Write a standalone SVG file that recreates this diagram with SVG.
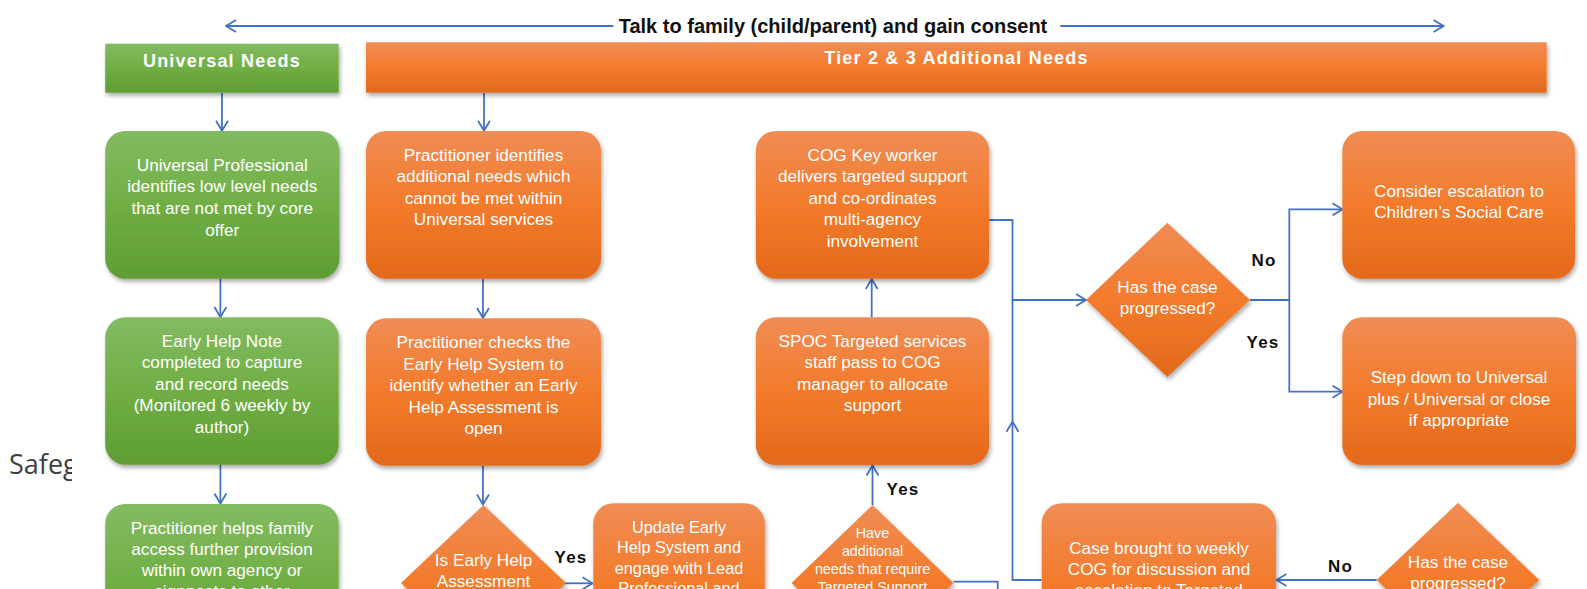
<svg xmlns="http://www.w3.org/2000/svg" width="1587" height="589" viewBox="0 0 1587 589">
<style>
.t{font-family:"Liberation Sans",Arial,sans-serif;font-size:17.2px;fill:#fff;text-anchor:middle}
.ts{font-size:16.3px}
.tx{font-size:14.3px}
.hd{font-family:"Liberation Sans",Arial,sans-serif;font-size:18px;font-weight:bold;fill:#fff;text-anchor:middle;letter-spacing:1.2px}
.lb{font-family:"Liberation Sans",Arial,sans-serif;font-size:17px;font-weight:bold;fill:#111;text-anchor:middle;letter-spacing:1.2px}
.top{font-family:"Liberation Sans",Arial,sans-serif;font-size:20px;font-weight:bold;fill:#111;text-anchor:middle}
.c{fill:none;stroke:#4472c4;stroke-width:1.8}
.a{marker-end:url(#ah)}
.o{fill:url(#og);filter:url(#sh)}
.g{fill:url(#gg);filter:url(#sh)}
</style>
<defs>
<linearGradient id="og" x1="0" y1="0" x2="0" y2="1">
<stop offset="0" stop-color="#f08c55"/><stop offset="0.5" stop-color="#f37b2b"/><stop offset="1" stop-color="#e3691b"/>
</linearGradient>
<linearGradient id="gg" x1="0" y1="0" x2="0" y2="1">
<stop offset="0" stop-color="#83bb61"/><stop offset="0.5" stop-color="#70ae45"/><stop offset="1" stop-color="#5f9d35"/>
</linearGradient>
<filter id="sh" x="-10%" y="-10%" width="125%" height="130%">
<feDropShadow dx="1.5" dy="3" stdDeviation="2" flood-color="#000" flood-opacity="0.33"/>
</filter>
<marker id="ah" viewBox="0 0 12 14" refX="11" refY="7" markerWidth="12" markerHeight="14" markerUnits="userSpaceOnUse" orient="auto">
<path d="M1,1 L11,7 L1,13" fill="none" stroke="#4472c4" stroke-width="1.8"/>
</marker>
<clipPath id="sc"><rect x="0" y="400" width="72" height="120"/></clipPath>
</defs>
<rect width="1587" height="589" fill="#fff"/>
<text x="9" y="474" clip-path="url(#sc)" style="font-family:'Open Sans','Liberation Sans',sans-serif;font-size:27px;fill:#404040">Safeg</text>

<g id="connectors">
<path class="c a" d="M613.4,26 H226"/>
<path class="c a" d="M1060.4,26 H1443.5"/>
<text class="top" x="833" y="33">Talk to family (child/parent) and gain consent</text>
<path class="c a" d="M222,93 V130.7"/>
<path class="c a" d="M220.4,278.7 V317"/>
<path class="c a" d="M220.4,464.7 V503.5"/>
<path class="c a" d="M484,93 V130.7"/>
<path class="c a" d="M483,278.7 V318"/>
<path class="c a" d="M483,465.7 V504.5"/>
<path class="c a" d="M564,583.3 H592.5"/>
<text class="lb" x="571" y="563">Yes</text>
<path class="c a" d="M872.5,505 V465.5"/>
<text class="lb" x="903" y="495">Yes</text>
<path class="c a" d="M871.7,317.3 V279"/>
<path class="c a" d="M989.2,220 H1012.5 V300 H1086"/>
<path class="c" d="M1012.5,422 V300"/>
<path class="c a" d="M1041.7,580 H1012.5 V421.7"/>
<path class="c" d="M953.5,581.7 H997.7 V600"/>
<path class="c" d="M1250,300 H1289.3"/>
<path class="c a" d="M1289.3,300 V209.3 H1342.5"/>
<path class="c a" d="M1289.3,300 V391.7 H1342.5"/>
<text class="lb" x="1264" y="266">No</text>
<text class="lb" x="1263" y="347.5">Yes</text>
<path class="c a" d="M1376.7,580 H1276.5"/>
<text class="lb" x="1340.5" y="572">No</text>
</g>

<g id="universal-header">
<rect class="g" x="105.2" y="43.7" width="233.5" height="49"/>
<text class="hd" x="222" y="66.7">Universal Needs</text>
</g>
<g id="tier-header">
<rect class="o" x="366" y="42.3" width="1180.7" height="50.4"/>
<text class="hd" x="956.5" y="64.3">Tier 2 &amp; 3 Additional Needs</text>
</g>

<g id="universal-professional">
<rect class="g" x="105.2" y="131" width="234.3" height="147.7" rx="20"/>
<text class="t" x="222.3" y="170.5">Universal Professional</text>
<text class="t" x="222.3" y="192.3">identifies low level needs</text>
<text class="t" x="222.3" y="214">that are not met by core</text>
<text class="t" x="222.3" y="235.7">offer</text>
</g>
<g id="early-help-note">
<rect class="g" x="105.2" y="317.3" width="233.5" height="147.4" rx="20"/>
<text class="t" x="222" y="346.5">Early Help Note</text>
<text class="t" x="222" y="368">completed to capture</text>
<text class="t" x="222" y="389.5">and record needs</text>
<text class="t" x="222" y="411">(Monitored 6 weekly by</text>
<text class="t" x="222" y="432.5">author)</text>
</g>
<g id="practitioner-helps">
<rect class="g" x="105.2" y="504" width="233.5" height="160" rx="20"/>
<text class="t" x="222" y="534.3">Practitioner helps family</text>
<text class="t" x="222" y="555.3">access further provision</text>
<text class="t" x="222" y="576.2">within own agency or</text>
<text class="t" x="222" y="597.3">signposts to other</text>
</g>

<g id="practitioner-identifies">
<rect class="o" x="366" y="131" width="235" height="147.7" rx="20"/>
<text class="t" x="483.5" y="161">Practitioner identifies</text>
<text class="t" x="483.5" y="182.3">additional needs which</text>
<text class="t" x="483.5" y="203.6">cannot be met within</text>
<text class="t" x="483.5" y="225">Universal services</text>
</g>
<g id="practitioner-checks">
<rect class="o" x="366" y="318.3" width="235" height="147.4" rx="20"/>
<text class="t" x="483.5" y="348.3">Practitioner checks the</text>
<text class="t" x="483.5" y="370">Early Help System to</text>
<text class="t" x="483.5" y="391.3">identify whether an Early</text>
<text class="t" x="483.5" y="412.7">Help Assessment is</text>
<text class="t" x="483.5" y="434.3">open</text>
</g>
<g id="is-early-help">
<polygon class="o" points="483.5,505 566,583 483.5,661 401,583"/>
<text class="t" x="483.5" y="566">Is Early Help</text>
<text class="t" x="483.5" y="587">Assessment</text>
</g>
<g id="update-early-help">
<rect class="o" x="593.3" y="503.3" width="171.5" height="160" rx="20"/>
<text class="t ts" x="679" y="532.7">Update Early</text>
<text class="t ts" x="679" y="553.3">Help System and</text>
<text class="t ts" x="679" y="573.5">engage with Lead</text>
<text class="t ts" x="679" y="593.7">Professional and</text>
</g>

<g id="cog-key-worker">
<rect class="o" x="755.8" y="131" width="233.4" height="147.7" rx="20"/>
<text class="t" x="872.5" y="161">COG Key worker</text>
<text class="t" x="872.5" y="182.4">delivers targeted support</text>
<text class="t" x="872.5" y="203.8">and co-ordinates</text>
<text class="t" x="872.5" y="225.2">multi-agency</text>
<text class="t" x="872.5" y="246.6">involvement</text>
</g>
<g id="spoc">
<rect class="o" x="755.8" y="317.3" width="233.4" height="147.7" rx="20"/>
<text class="t" x="872.5" y="346.7">SPOC Targeted services</text>
<text class="t" x="872.5" y="368.1">staff pass to COG</text>
<text class="t" x="872.5" y="389.8">manager to allocate</text>
<text class="t" x="872.5" y="411.2">support</text>
</g>
<g id="have-additional-needs">
<polygon class="o" points="872.5,505 953.5,583 872.5,661 791.5,583"/>
<text class="t tx" x="872.5" y="538.3">Have</text>
<text class="t tx" x="872.5" y="556.2">additional</text>
<text class="t tx" x="872.5" y="574.4">needs that require</text>
<text class="t tx" x="872.5" y="592.4">Targeted Support</text>
</g>

<g id="has-case-progressed-1">
<polygon class="o" points="1167.3,222.7 1250,300 1167.3,377 1086,300"/>
<text class="t" x="1167.5" y="292.7">Has the case</text>
<text class="t" x="1167.5" y="314.3">progressed?</text>
</g>
<g id="consider-escalation">
<rect class="o" x="1342.3" y="131" width="232.7" height="147.7" rx="20"/>
<text class="t" x="1459" y="196.7">Consider escalation to</text>
<text class="t" x="1459" y="218">Children’s Social Care</text>
</g>
<g id="step-down">
<rect class="o" x="1342.3" y="317.3" width="233.7" height="147.7" rx="20"/>
<text class="t" x="1459" y="383.3">Step down to Universal</text>
<text class="t" x="1459" y="404.5">plus / Universal or close</text>
<text class="t" x="1459" y="426">if appropriate</text>
</g>
<g id="case-brought">
<rect class="o" x="1041.7" y="503.3" width="234.3" height="160" rx="20"/>
<text class="t" x="1159" y="554.3">Case brought to weekly</text>
<text class="t" x="1159" y="575.3">COG for discussion and</text>
<text class="t" x="1159" y="596.3">escalation to Targeted</text>
</g>
<g id="has-case-progressed-2">
<polygon class="o" points="1458,502.7 1539.3,580 1458,657 1376.7,580"/>
<text class="t" x="1458" y="567.7">Has the case</text>
<text class="t" x="1458" y="588.7">progressed?</text>
</g>
</svg>
